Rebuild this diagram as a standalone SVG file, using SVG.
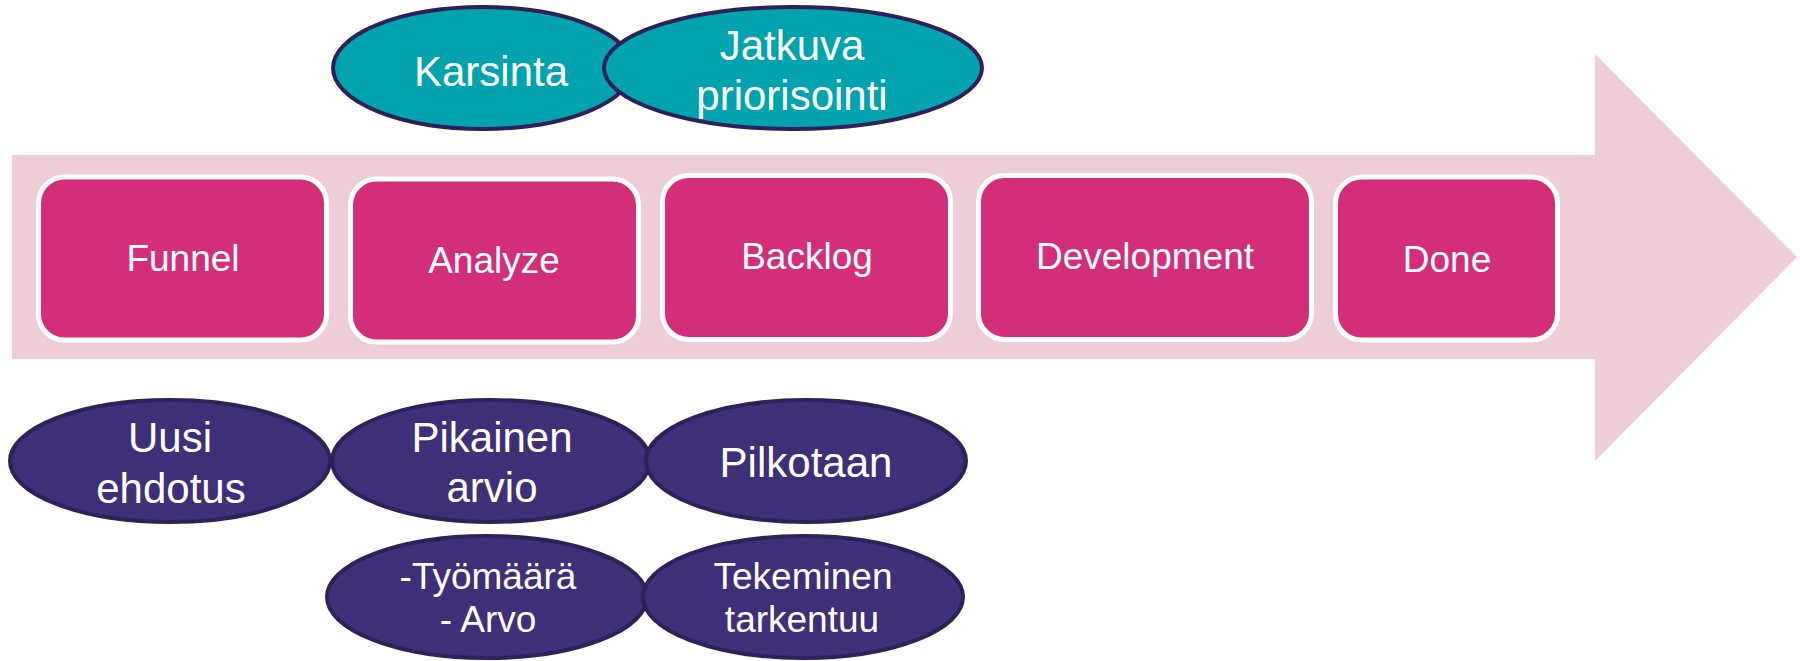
<svg xmlns="http://www.w3.org/2000/svg" width="1800" height="661" viewBox="0 0 1800 661">
<style>
.band{fill:#EECDD6}
.box{fill:#D32E79;stroke:#FFFFFF;stroke-width:5}
.teal{fill:#00A3AE;stroke:#2D2158;stroke-width:4}
.purple{fill:#3F2E78;stroke:#2D2158;stroke-width:4}
text{font-family:"Liberation Sans",Arial,sans-serif;fill:#FFFFFF;text-anchor:middle}
.bt{font-size:37px}
.et{font-size:42px}
.st{font-size:37px}
</style>
<rect width="1800" height="661" fill="#FFFFFF"/>
<g id="arrow">
<polygon class="band" points="12,155 1595,155 1595,54 1797,257 1595,461 1595,359 12,359"/>
</g>
<g id="connectors"></g>
<g id="funnel">
<rect class="box" x="38.5" y="177" width="288" height="163" rx="26"/>
<text class="bt" x="183" y="271">Funnel</text>
</g>
<g id="analyze">
<rect class="box" x="350.5" y="179" width="288" height="163" rx="26"/>
<text class="bt" x="494" y="273">Analyze</text>
</g>
<g id="backlog">
<rect class="box" x="662.5" y="175.5" width="288" height="164" rx="26"/>
<text class="bt" x="807" y="269">Backlog</text>
</g>
<g id="development">
<rect class="box" x="978.5" y="175.5" width="333" height="164" rx="26"/>
<text class="bt" x="1145" y="269">Development</text>
</g>
<g id="done">
<rect class="box" x="1335.5" y="177" width="222" height="163" rx="26"/>
<text class="bt" x="1447" y="272">Done</text>
</g>
<g id="karsinta">
<ellipse class="teal" cx="483" cy="68" rx="150" ry="61"/>
<text class="et" x="491" y="86">Karsinta</text>
</g>
<g id="jatkuva">
<ellipse class="teal" cx="793" cy="68" rx="189" ry="61"/>
<text class="et" x="792" y="60">Jatkuva</text>
<text class="et" x="792" y="110">priorisointi</text>
</g>
<g id="uusi">
<ellipse class="purple" cx="170" cy="461" rx="160" ry="61"/>
<text class="et" x="170" y="452">Uusi</text>
<text class="et" x="171" y="503">ehdotus</text>
</g>
<g id="pikainen">
<ellipse class="purple" cx="491" cy="461" rx="159" ry="61"/>
<text class="et" x="492" y="452">Pikainen</text>
<text class="et" x="492" y="502">arvio</text>
</g>
<g id="pilkotaan">
<ellipse class="purple" cx="806" cy="461" rx="160" ry="61"/>
<text class="et" x="806" y="477">Pilkotaan</text>
</g>
<g id="tyomaara">
<ellipse class="purple" cx="487" cy="597" rx="160" ry="61"/>
<text class="st" x="488" y="589">-Työmäärä</text>
<text class="st" x="488" y="632">- Arvo</text>
</g>
<g id="tekeminen">
<ellipse class="purple" cx="803" cy="597" rx="160" ry="61"/>
<text class="st" x="803" y="589">Tekeminen</text>
<text class="st" x="802" y="632">tarkentuu</text>
</g>
</svg>
